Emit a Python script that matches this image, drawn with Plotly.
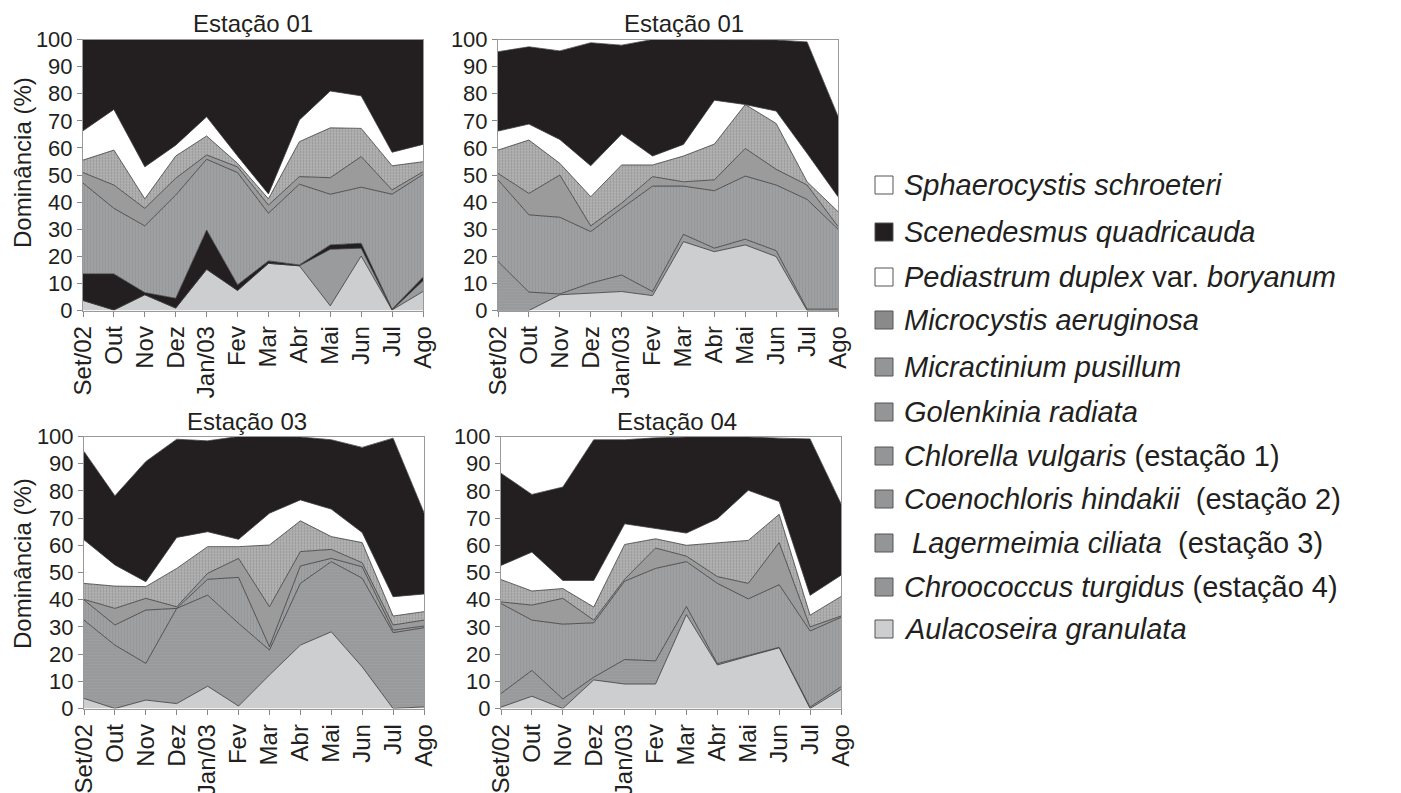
import plotly.graph_objects as go

months = ["Set/02", "Out", "Nov", "Dez", "Jan/03", "Fev", "Mar", "Abr", "Mai", "Jun", "Jul", "Ago"]
y_ticks = [0, 10, 20, 30, 40, 50, 60, 70, 80, 90, 100]
panel_titles = ["Estação 01", "Estação 01", "Estação 03", "Estação 04"]

# ---- Estação 1 (values in %, bottom to top) ----
aula1 = [3.7, 0.2, 5.8, 0.9, 15.2, 7.4, 17.4, 16.5, 1.7, 20.1, 0.2, 7.0]
outras1 = [0, 0, 0, 0, 0, 0, 0, 0, 20.9, 2.9, 0, 4.0]
chlorella1 = [9.8, 13.3, 0.8, 3.6, 14.5, 2.1, 0.9, 0.3, 1.6, 1.8, 0.3, 1.3]
gol1 = [33.5, 24.2, 24.6, 38.1, 26.1, 41.4, 17.6, 29.8, 18.7, 20.7, 42.4, 37.9]
micr1 = [3.9, 8.6, 6.5, 6.2, 1.6, 2.1, 3.0, 2.8, 6.1, 11.3, 1.6, 1.0]
mcys1 = [4.6, 12.9, 3.5, 8.2, 7.0, 1.3, 2.3, 12.9, 18.4, 10.4, 8.9, 3.7]
ped1 = [10.8, 15.0, 11.8, 4.0, 7.1, 2.7, 1.8, 8.0, 13.6, 12.0, 5.0, 6.4]
scen1 = [33.7, 25.8, 47.0, 39.0, 28.5, 43.0, 57.0, 29.7, 19.0, 20.8, 41.6, 38.7]
sph1 = [0, 0, 0, 0, 0, 0, 0, 0, 0, 0, 0, 0]

# ---- Estação 2 ----
aula2 = [0, 0, 5.8, 6.4, 7.0, 5.5, 25.4, 21.7, 24.2, 19.9, 0, 0]
coen2 = [18.1, 6.8, 0.3, 3.7, 6.1, 1.5, 2.7, 1.3, 2.1, 2.2, 0.5, 0.5]
gol2 = [30.1, 28.5, 28.3, 19.0, 24.6, 38.9, 17.8, 21.2, 23.3, 24.2, 40.5, 29.5]
micr2 = [2.4, 7.9, 15.6, 2.1, 1.9, 3.5, 1.6, 4.0, 10.2, 5.8, 5.3, 1.0]
mcys2 = [8.6, 19.7, 4.3, 10.8, 14.1, 4.3, 9.5, 13.2, 16.2, 16.9, 1.2, 5.5]
ped2 = [7.0, 5.9, 8.8, 11.4, 11.4, 3.3, 4.3, 16.2, 0.0, 4.6, 10.5, 5.5]
scen2 = [29.3, 28.5, 32.7, 45.4, 32.8, 43.0, 38.7, 22.4, 24.0, 26.2, 41.1, 29.7]
sph2 = [4.5, 2.7, 4.2, 1.2, 2.1, 0, 0, 0, 0, 0.2, 0.9, 28.3]

# ---- Estação 3 ----
aula3 = [3.7, 0, 3.1, 1.8, 8.2, 0.9, 12.3, 23.3, 28.2, 15.3, 0, 0.6]
lager3 = [28.8, 23.3, 13.5, 35.0, 33.5, 30.4, 9.2, 22.7, 25.8, 32.6, 27.9, 29.1]
gol3 = [7.4, 7.4, 19.6, 0, 5.8, 16.9, 1.2, 6.4, 1.2, 4.2, 0.9, 0.6]
micr3 = [0.2, 6.1, 4.3, 0.6, 2.2, 7.0, 14.7, 5.3, 3.3, 1.5, 1.9, 2.2]
mcys3 = [5.9, 8.2, 4.3, 14.1, 9.8, 4.3, 22.7, 11.3, 4.7, 7.4, 3.3, 3.1]
ped3 = [16.0, 7.8, 1.8, 11.4, 5.5, 2.7, 11.7, 7.7, 10.1, 3.7, 7.1, 6.5]
scen3 = [32.5, 25.4, 44.2, 36.1, 33.4, 37.8, 28.2, 23.1, 25.5, 31.3, 58.3, 29.9]
sph3 = [5.5, 21.8, 9.2, 1.0, 1.6, 0, 0, 0.2, 1.2, 4.0, 0.6, 28.0]

# ---- Estação 4 ----
aula4 = [0.5, 4.5, 0, 10.5, 9.0, 9.0, 34.5, 16.0, 19.2, 22.3, 0, 7.0]
chroo4 = [5.0, 9.5, 3.5, 1.0, 9.0, 8.5, 3.0, 0.5, 0.3, 0.2, 0.5, 1.0]
gol4 = [33.1, 18.5, 27.5, 20.0, 28.8, 34.0, 16.5, 29.5, 20.8, 23.0, 28.0, 25.5]
micr4 = [0.6, 5.5, 9.5, 1.0, 0.7, 7.5, 2.0, 2.5, 5.7, 15.5, 1.5, 0.5]
mcys4 = [8.2, 5.2, 3.6, 4.8, 12.8, 3.4, 4.0, 12.3, 15.8, 10.4, 4.3, 7.2]
ped4 = [5.2, 14.3, 3.0, 9.8, 7.6, 3.7, 4.5, 9.0, 18.4, 4.7, 7.3, 7.8]
scen4 = [33.9, 21.2, 34.3, 51.7, 30.9, 33.4, 35.3, 30.0, 19.6, 23.3, 57.5, 26.3]
sph4 = [13.5, 21.3, 18.6, 1.2, 1.2, 0.5, 0.2, 0.2, 0.2, 0.6, 0.9, 24.7]

FONT = "Liberation Sans, Arial, sans-serif"
TXT = "#231f20"
BLACK = "#231f20"

STYLE = {
    "aula": dict(fillcolor="#cdced0"),
    "outras": dict(fillcolor="#9a9b9d"),
    "station": dict(fillcolor="#97989a", fillpattern=dict(shape="-", fgcolor="#8a8b8d", bgcolor="#9d9ea0", size=3, solidity=0.3)),
    "station_dark": dict(fillcolor=BLACK),
    "gol": dict(fillcolor="#9a9b9d", fillpattern=dict(shape="|", fgcolor="#8c8d8f", bgcolor="#9fa0a2", size=3, solidity=0.35)),
    "micr": dict(fillcolor="#9b9b9b"),
    "mcys": dict(fillcolor="#a6a6a6", fillpattern=dict(shape=".", fgcolor="#747474", bgcolor="#b3b3b3", size=3, solidity=0.35)),
    "ped": dict(fillcolor="#ffffff"),
    "scen": dict(fillcolor=BLACK),
    "sph": dict(fillcolor="#ffffff"),
}

stations = [
    [("Aulacoseira granulata", aula1, "aula"), ("outras", outras1, "outras"),
     ("Chlorella vulgaris", chlorella1, "station_dark"), ("Golenkinia radiata", gol1, "gol"),
     ("Micractinium pusillum", micr1, "micr"), ("Microcystis aeruginosa", mcys1, "mcys"),
     ("Pediastrum duplex var. boryanum", ped1, "ped"), ("Scenedesmus quadricauda", scen1, "scen"),
     ("Sphaerocystis schroeteri", sph1, "sph")],
    [("Aulacoseira granulata", aula2, "aula"), ("Coenochloris hindakii", coen2, "station"),
     ("Golenkinia radiata", gol2, "gol"), ("Micractinium pusillum", micr2, "micr"),
     ("Microcystis aeruginosa", mcys2, "mcys"), ("Pediastrum duplex var. boryanum", ped2, "ped"),
     ("Scenedesmus quadricauda", scen2, "scen"), ("Sphaerocystis schroeteri", sph2, "sph")],
    [("Aulacoseira granulata", aula3, "aula"), ("Lagermeimia ciliata", lager3, "station"),
     ("Golenkinia radiata", gol3, "gol"), ("Micractinium pusillum", micr3, "micr"),
     ("Microcystis aeruginosa", mcys3, "mcys"), ("Pediastrum duplex var. boryanum", ped3, "ped"),
     ("Scenedesmus quadricauda", scen3, "scen"), ("Sphaerocystis schroeteri", sph3, "sph")],
    [("Aulacoseira granulata", aula4, "aula"), ("Chroococcus turgidus", chroo4, "station"),
     ("Golenkinia radiata", gol4, "gol"), ("Micractinium pusillum", micr4, "micr"),
     ("Microcystis aeruginosa", mcys4, "mcys"), ("Pediastrum duplex var. boryanum", ped4, "ped"),
     ("Scenedesmus quadricauda", scen4, "scen"), ("Sphaerocystis schroeteri", sph4, "sph")],
]

W, H = 1401, 793
# panel pixel boxes (left, right, top, bottom)
boxes = [(83, 423, 39.5, 310.5), (498, 838, 39.5, 310.5), (84, 424, 436.5, 708.5), (501, 841, 436.5, 708.5)]

fig = go.Figure()
for i, layers in enumerate(stations):
    sfx = "" if i == 0 else str(i + 1)
    for name, vals, key in layers:
        st = STYLE[key]
        kw = dict(fillcolor=st["fillcolor"])
        if "fillpattern" in st:
            kw["fillpattern"] = st["fillpattern"]
        fig.add_trace(go.Scatter(
            x=months, y=vals, name=name, mode="lines", stackgroup=f"s{i}",
            line=dict(color="#3a3a3a", width=0.8), showlegend=False,
            xaxis="x" + sfx, yaxis="y" + sfx, **kw))

for i, (l, r, t, b) in enumerate(boxes):
    sfx = "" if i == 0 else str(i + 1)
    xd = [l / W, r / W]
    yd = [1 - b / H, 1 - t / H]
    fig.layout["xaxis" + sfx] = dict(
        domain=xd, anchor="y" + sfx, type="category", range=[0, 11], tickangle=-90,
        tickfont=dict(family=FONT, size=24, color=TXT), ticks="outside", ticklen=5, tickcolor="#888",
        showline=True, linecolor="#9a9a9a", linewidth=1, mirror=True,
        showgrid=False, zeroline=False, automargin=False)
    fig.layout["yaxis" + sfx] = dict(
        domain=yd, anchor="x" + sfx, range=[0, 100], tickvals=y_ticks,
        tickfont=dict(family=FONT, size=22, color=TXT), ticks="outside", ticklen=5, tickcolor="#888",
        showline=True, linecolor="#9a9a9a", linewidth=1, mirror=True,
        showgrid=False, zeroline=False, automargin=False)

annotations = []
title_pos = [(253, 24), (684, 24), (247, 421), (677, 421)]
for (cx, cy), ttl in zip(title_pos, panel_titles):
    annotations.append(dict(text=ttl, x=cx / W, y=1 - cy / H, xref="paper", yref="paper",
                            xanchor="center", yanchor="middle", showarrow=False,
                            font=dict(family=FONT, size=24, color=TXT)))
for cy in (163, 564):
    annotations.append(dict(text="Dominância (%)", x=22 / W, y=1 - cy / H, xref="paper", yref="paper",
                            xanchor="center", yanchor="middle", showarrow=False, textangle=-90,
                            font=dict(family=FONT, size=24, color=TXT)))

# legend (drawn manually)
legend_items = [
    ("<i>Sphaerocystis schroeteri</i>", "#ffffff"),
    ("<i>Scenedesmus quadricauda</i>", BLACK),
    ("<i>Pediastrum duplex</i> var. <i>boryanum</i>", "#ffffff"),
    ("<i>Microcystis aeruginosa</i>", "#8a8a8a"),
    ("<i>Micractinium pusillum</i>", "#949597"),
    ("<i>Golenkinia radiata</i>", "#949597"),
    ("<i>Chlorella vulgaris</i> (estação 1)", "#949597"),
    ("<i>Coenochloris hindakii</i>  (estação 2)", "#949597"),
    (" <i>Lagermeimia ciliata</i>  (estação 3)", "#949597"),
    ("<i>Chroococcus turgidus</i> (estação 4)", "#949597"),
    ("<i>Aulacoseira granulata</i>", "#cdced0"),
]
row_y = [185, 232, 277, 320, 367, 412, 456, 499, 543, 587, 629]
shapes = []
for (label, col), yy in zip(legend_items, row_y):
    shapes.append(dict(type="rect", xref="paper", yref="paper",
                       x0=875 / W, x1=893 / W, y0=1 - (yy + 9) / H, y1=1 - (yy - 9) / H,
                       fillcolor=col, line=dict(color="#555", width=1)))
    annotations.append(dict(text=label, x=902 / W, y=1 - yy / H, xref="paper", yref="paper",
                            xanchor="left", yanchor="middle", showarrow=False,
                            font=dict(family=FONT, size=29, color=TXT)))

fig.update_layout(width=W, height=H, margin=dict(l=0, r=0, t=0, b=0),
                  plot_bgcolor="white", paper_bgcolor="white",
                  annotations=annotations, shapes=shapes, showlegend=False)

fig.write_html("out.html", config={"displayModeBar": False},
               post_script="document.body.style.margin='0';document.body.style.overflow='hidden';")
